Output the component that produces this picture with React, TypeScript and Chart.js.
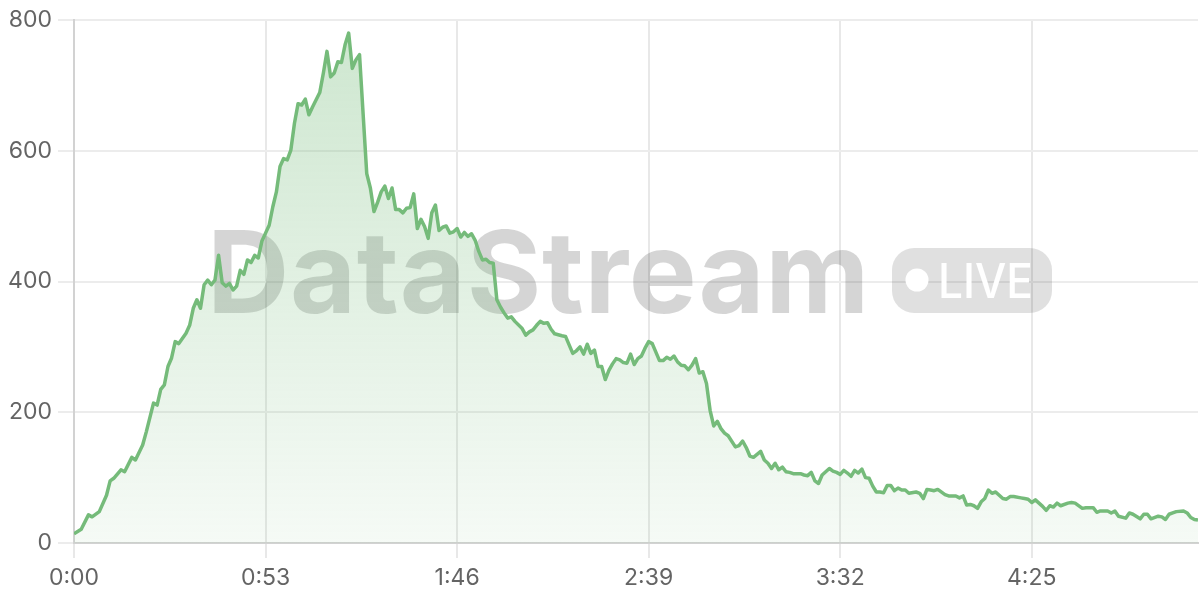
import { useEffect, useRef } from 'react';
import { Chart, registerables } from 'chart.js';

Chart.register(...registerables);

// seconds since start
const times = [
  0, 2, 4, 5, 7, 9, 10, 11, 13, 14, 16, 17, 19, 20, 22, 23, 24, 25, 26, 27, 28, 29, 31, 32, 33, 34, 35, 36, 37, 38, 39,
  40, 41, 42, 43, 44, 45, 46, 47, 48, 49, 50, 51, 52, 53, 54, 55, 56, 57, 58, 59, 60, 61, 62, 63, 64, 65, 66, 68, 69,
  70, 71, 72, 73, 74, 75, 76, 77, 78, 79, 81, 82, 83, 84, 85, 86, 87, 88, 89, 90, 91, 92, 93, 94, 95, 96, 97, 98, 99,
  100, 101, 102, 103, 104, 105, 106, 107, 108, 109, 110, 111, 112, 113, 114, 115, 116, 117, 118, 119, 120, 121, 122,
  124, 125, 126, 127, 128, 129, 130, 131, 132, 133, 135, 136, 137, 138, 139, 140, 141, 142, 143, 144, 145, 146, 147,
  148, 149, 150, 151, 152, 153, 154, 155, 156, 157, 158, 159, 160, 162, 163, 164, 165, 166, 167, 168, 169, 170, 171,
  172, 173, 174, 175, 176, 177, 178, 179, 180, 181, 183, 184, 185, 186, 187, 188, 190, 191, 192, 193, 194, 195, 196,
  197, 198, 199, 201, 202, 203, 204, 205, 206, 207, 209, 210, 211, 212, 213, 214, 215, 216, 217, 218, 219, 220, 221,
  222, 223, 224, 225, 226, 227, 228, 229, 230, 231, 233, 234, 235, 236, 237, 238, 239, 241, 242, 243, 244, 245, 246,
  247, 248, 249, 250, 251, 252, 253, 254, 255, 256, 257, 258, 259, 260, 262, 263, 264, 265, 266, 267, 268, 269, 270,
  271, 272, 273, 275, 276, 277, 279, 280, 282, 283, 284, 286, 287, 288, 289, 291, 292, 293, 295, 296, 297, 298, 300,
  301, 302, 303, 304, 305, 307, 308, 309, 310, 311,
];

// viewers at each time
const values = [
  14, 21, 43, 40, 48, 73, 95, 99, 112, 109, 131, 127, 150, 170, 214, 211, 235, 242, 270, 283, 308, 305, 321, 333, 359, 372, 359, 395, 402, 395, 402,
  440, 398, 393, 397, 387, 393, 417, 411, 433, 429, 440, 436, 462, 474, 486, 514, 537, 576, 588, 586, 601, 642, 672, 670, 679, 655, 667, 689, 719,
  752, 713, 719, 736, 735, 762, 780, 726, 739, 747, 565, 543, 507, 521, 537, 546, 527, 543, 510, 510, 505, 512, 513, 534, 481, 495, 484, 466, 505,
  517, 478, 483, 485, 474, 476, 481, 468, 475, 469, 473, 463, 446, 433, 434, 429, 428, 372, 361, 352, 344, 346, 339,
  328, 318, 323, 326, 333, 339, 336, 337, 327, 320, 317, 316, 303, 290, 294, 300, 289, 304, 290, 295, 270, 270, 250,
  264, 274, 282, 280, 276, 275, 289, 273, 282, 286, 298, 308, 305, 279, 279, 284, 281, 286, 277, 272, 271, 265, 272,
  282, 260, 262, 244, 203, 179, 186, 175, 168, 164, 147, 149, 156, 146, 133, 131, 140, 127, 122, 114, 122, 112, 116,
  109, 108, 106, 106, 104, 103, 108, 95, 91, 104, 114, 110, 108, 105, 111, 107, 102, 111, 107, 113, 100, 99, 87,
  78, 78, 77, 88, 88, 80, 84, 81, 81, 76, 78, 76, 68, 82, 81, 80, 82, 74, 72, 72, 72, 69, 72,
  58, 59, 57, 53, 63, 68, 81, 76, 78, 73, 68, 67, 71, 71, 69, 68, 67, 62, 66, 61, 56, 50, 57,
  55, 61, 57, 61, 62, 61, 53, 54, 54, 47, 49, 49, 46, 49, 41, 38, 46, 44, 37, 44, 44, 37, 41,
  40, 36, 44, 46, 48, 49, 46, 39, 36, 35,
];

const xTickSeconds = [0, 53, 106, 159, 212, 265];
const xMax = 311;
const yMin = 0;
const yMax = 800;
const yStep = 200;

const watermarkText = 'DataStream';
const badgeText = 'LIVE';

const LINE = 'rgb(117, 187, 122)';
const FONT = 'Inter';

function fmtTime(s: number): string {
  const m = Math.floor(s / 60);
  const ss = Math.round(s % 60);
  return `${m}:${String(ss).padStart(2, '0')}`;
}

const watermarkPlugin = {
  id: 'watermark',
  beforeDatasetsDraw(chart: any) {
    const { ctx, chartArea: ca } = chart;
    const cx = (ca.left + ca.right) / 2;
    ctx.save();
    ctx.font = `bold 114px ${FONT}`;
    ctx.textBaseline = 'alphabetic';
    ctx.textAlign = 'left';
    const natural = ctx.measureText(watermarkText).width;
    const targetW = 663;
    (ctx as any).letterSpacing = `${(targetW - natural) / watermarkText.length}px`;
    ctx.fillStyle = 'rgba(0,0,0,0.165)';
    const textLeft = cx - 429;
    const baseline = ca.top + 293;
    ctx.fillText(watermarkText, textLeft, baseline);
    (ctx as any).letterSpacing = '0px';

    const bx = cx + 256;
    const by = ca.top + 228;
    const bw = 160;
    const bh = 65;
    ctx.beginPath();
    ctx.roundRect(bx, by, bw, bh, 22);
    ctx.fillStyle = 'rgba(0,0,0,0.12)';
    ctx.fill();
    ctx.fillStyle = '#ffffff';
    ctx.beginPath();
    ctx.arc(bx + 25, by + 32, 11.5, 0, Math.PI * 2);
    ctx.fill();
    ctx.font = `500 48px ${FONT}`;
    const lw = ctx.measureText(badgeText).width;
    ctx.save();
    ctx.translate(bx + 46, by + 50);
    ctx.scale(95 / lw, 1);
    ctx.fillText(badgeText, 0, 0);
    ctx.restore();
    ctx.restore();
  },
};

export default function App() {
  const canvasRef = useRef<HTMLCanvasElement | null>(null);

  useEffect(() => {
    document.body.style.margin = '0';
    const canvas = canvasRef.current;
    if (!canvas) return;
    const chart = new Chart(canvas, {
      type: 'line',
      data: {
        datasets: [
          {
            label: 'Viewers',
            data: times.map((t, i) => ({ x: t, y: values[i] })),
            borderColor: LINE,
            borderWidth: 3.5,
            borderJoinStyle: 'round',
            pointRadius: 0,
            tension: 0,
            fill: 'origin',
            backgroundColor: (context: any) => {
              const { chart } = context;
              const ca = chart.chartArea;
              if (!ca) return 'rgba(117,187,122,0.2)';
              const g = chart.ctx.createLinearGradient(0, ca.top, 0, ca.bottom);
              g.addColorStop(0, 'rgba(117,187,122,0.36)');
              g.addColorStop(1, 'rgba(117,187,122,0.07)');
              return g;
            },
          },
        ],
      },
      options: {
        animation: false,
        responsive: true,
        maintainAspectRatio: false,
        layout: { padding: { top: 20, right: 2, left: 0, bottom: 0 } },
        plugins: {
          legend: { display: false },
          tooltip: { enabled: false },
        },
        scales: {
          x: {
            type: 'linear',
            min: 0,
            max: xMax,
            afterBuildTicks: (scale: any) => {
              scale.ticks = xTickSeconds.map((v) => ({ value: v }));
            },
            afterFit: (scale: any) => {
              scale.height = 57;
            },
            ticks: {
              autoSkip: false,
              maxRotation: 0,
              padding: 6,
              color: '#646464',
              font: { family: FONT, size: 23 },
              callback: (v: any) => fmtTime(Number(v)),
            },
            grid: { color: '#e8e8e8', lineWidth: 2, tickLength: 15 },
            border: { color: '#d2d2d2', width: 2 },
          },
          y: {
            min: yMin,
            max: yMax,
            afterFit: (scale: any) => {
              scale.width = 74;
            },
            ticks: {
              stepSize: yStep,
              padding: 6,
              color: '#646464',
              font: { family: FONT, size: 23 },
            },
            grid: { color: '#ececec', lineWidth: 2, tickLength: 16 },
            border: { color: '#d2d2d2', width: 2 },
          },
        },
      },
      plugins: [watermarkPlugin],
    });
    return () => chart.destroy();
  }, []);

  return (
    <div style={{ position: 'fixed', left: 0, top: 0, width: 1200, height: 600 }}>
      <canvas ref={canvasRef} />
    </div>
  );
}
